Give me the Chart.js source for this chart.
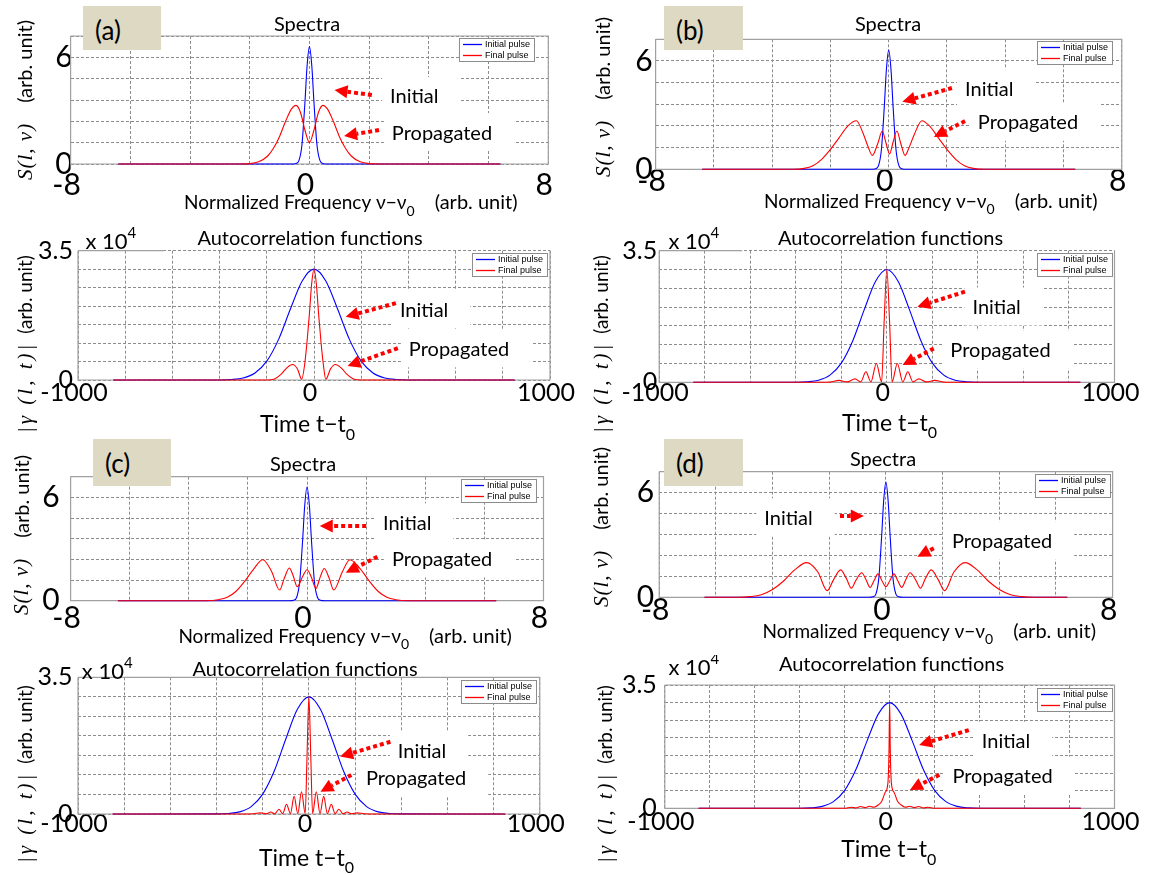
<!DOCTYPE html>
<html lang="en">
<head>
<meta charset="UTF-8">
<title>Spectra and autocorrelation functions</title>
<script src="https://cdn.jsdelivr.net/npm/chart.js"></script>
<style>
  body { margin: 0; background: #fff; }
  #page { position: relative; width: 1155px; height: 875px; overflow: hidden; }
  #page canvas { position: absolute; }
  .tag { position: absolute; z-index: 5; background: #ddd9c3; color: #000;
         font: 26px Lato, "DejaVu Sans", sans-serif; box-sizing: border-box;
         padding: 8px 0 0 12px; }
</style>
</head>
<body>
<div id="page">
  <div class="tag" style="left:83px;top:6px;width:78px;height:44px">(a)</div>
  <div class="tag" style="left:664px;top:6px;width:79px;height:44px">(b)</div>
  <div class="tag" style="left:93px;top:439px;width:78px;height:47px">(c)</div>
  <div class="tag" style="left:664px;top:439px;width:79px;height:47px">(d)</div>
</div>
<script>
// ---- spectra (normalized frequency, arb. unit) ----
const specInitX = [-6.4, -1.0, -0.6, -0.45, -0.35, -0.25, -0.15, -0.08, 0, 0.08, 0.15, 0.25, 0.35, 0.45, 0.6, 1.0, 6.4];
const specInitY = [0, 0, 0, 0.03, 0.2, 1.1, 3.5, 5.5, 6.6, 5.5, 3.5, 1.1, 0.2, 0.03, 0, 0, 0];

const specFinalAX = [-6.4, -2.4, -2.0, -1.7, -1.4, -1.2, -1.0, -0.8, -0.6, -0.45, -0.3, -0.15, 0, 0.15, 0.3, 0.45, 0.6, 0.8, 1.0, 1.2, 1.4, 1.7, 2.0, 2.4, 6.4];
const specFinalAY = [0, 0, 0.02, 0.12, 0.45, 0.9, 1.55, 2.4, 3.1, 3.3, 2.9, 1.9, 1.2, 1.9, 2.9, 3.3, 3.1, 2.4, 1.55, 0.9, 0.45, 0.12, 0.02, 0, 0];

const specFinalBX = [-6.4, -3.3, -2.9, -2.6, -2.3, -2.0, -1.7, -1.4, -1.11, -0.88, -0.72, -0.56, -0.38, -0.22, -0.1, 0.03, 0.15, 0.28, 0.42, 0.56, 0.7, 0.87, 1.14, 1.4, 1.7, 2.0, 2.3, 2.6, 2.9, 3.3, 6.4];
const specFinalBY = [0, 0, 0.05, 0.2, 0.55, 1.1, 1.75, 2.4, 2.69, 2.0, 1.3, 0.77, 1.4, 2.12, 1.5, 0.85, 1.5, 2.12, 1.4, 0.77, 1.2, 1.9, 2.69, 2.4, 1.75, 1.1, 0.55, 0.2, 0.05, 0, 0];

const specFinalCX = [-6.4, -3.4, -3.0, -2.7, -2.4, -2.1, -1.8, -1.5, -1.2, -0.93, -0.77, -0.6, -0.47, -0.33, -0.15, 0, 0.15, 0.3, 0.45, 0.58, 0.75, 0.9, 1.2, 1.45, 1.8, 2.1, 2.4, 2.7, 3.0, 3.4, 6.4];
const specFinalCY = [0, 0, 0.06, 0.2, 0.55, 1.15, 1.85, 2.38, 1.7, 0.62, 1.3, 1.9, 1.45, 0.81, 1.4, 1.8, 1.35, 0.71, 1.4, 1.87, 1.3, 0.62, 1.7, 2.38, 1.85, 1.15, 0.55, 0.2, 0.06, 0, 0];

const specFinalDX = [-6.4, -5.2, -4.8, -4.4, -4.0, -3.6, -3.2, -2.8, -2.4, -2.07, -1.85, -1.6, -1.4, -1.22, -1.05, -0.85, -0.7, -0.56, -0.42, -0.28, -0.14, 0, 0.14, 0.28, 0.42, 0.56, 0.7, 0.85, 1.05, 1.22, 1.4, 1.6, 1.85, 2.07, 2.4, 2.8, 3.2, 3.6, 4.0, 4.4, 4.8, 5.2, 6.4];
const specFinalDY = [0, 0, 0.04, 0.15, 0.45, 0.95, 1.6, 1.99, 1.45, 0.38, 1.0, 1.57, 1.1, 0.52, 1.0, 1.41, 1.0, 0.57, 0.95, 1.34, 0.95, 0.61, 0.95, 1.34, 0.95, 0.57, 1.0, 1.41, 1.0, 0.52, 1.1, 1.57, 1.0, 0.38, 1.45, 1.99, 1.6, 0.95, 0.45, 0.15, 0.04, 0, 0];

// ---- autocorrelation (time t - t0, values in units of 1e4) ----
const autoInitX = [-850, -400, -350, -300, -250, -200, -150, -100, -50, 0, 50, 100, 150, 200, 250, 300, 350, 400, 850];
const autoInitY = [0, 0.002, 0.013, 0.055, 0.19, 0.51, 1.1, 1.92, 2.68, 3.0, 2.68, 1.92, 1.1, 0.51, 0.19, 0.055, 0.013, 0.002, 0];

const autoFinalAX = [-850, -200, -170, -140, -115, -91, -70, -52, -40, -30, -20, -10, 0, 10, 20, 30, 40, 50, 70, 90, 115, 140, 170, 200, 850];
const autoFinalAY = [0, 0, 0.02, 0.15, 0.33, 0.42, 0.3, 0.02, 0.4, 1.0, 1.75, 2.6, 3.0, 2.6, 1.75, 1.0, 0.4, 0.02, 0.3, 0.42, 0.33, 0.15, 0.02, 0, 0];

const autoFinalBX = [-850, -280, -250, -210, -175, -140, -115, -92, -70, -46, -23, -12, 0, 12, 23, 46, 70, 92, 115, 140, 175, 210, 250, 280, 850];
const autoFinalBY = [0, 0, 0.005, 0.05, 0.01, 0.09, 0.01, 0.28, 0.01, 0.5, 0.01, 1.6, 3.0, 1.6, 0.01, 0.5, 0.01, 0.28, 0.01, 0.09, 0.01, 0.05, 0.005, 0, 0];

const autoFinalCX = [-850, -300, -240, -210, -185, -165, -148, -130, -113, -97, -80, -64, -48, -32, -16, -8, 0, 8, 16, 32, 48, 64, 80, 97, 113, 130, 148, 165, 185, 210, 240, 300, 850];
const autoFinalCY = [0, 0, 0.005, 0.03, 0.005, 0.05, 0.005, 0.12, 0.01, 0.25, 0.01, 0.45, 0.01, 0.57, 0.01, 1.5, 3.0, 1.5, 0.01, 0.57, 0.01, 0.45, 0.01, 0.25, 0.01, 0.12, 0.005, 0.05, 0.005, 0.03, 0.005, 0, 0];

const autoFinalDX = [-850, -200, -170, -150, -130, -110, -90, -70, -50, -35, -20, -8, -3, 0, 3, 8, 20, 35, 50, 70, 90, 110, 130, 150, 170, 200, 850];
const autoFinalDY = [0, 0, 0.03, 0.01, 0.05, 0.02, 0.06, 0.03, 0.1, 0.2, 0.45, 0.7, 1.6, 3.0, 1.6, 0.7, 0.45, 0.2, 0.1, 0.03, 0.06, 0.02, 0.05, 0.01, 0.03, 0, 0];

// ---- axes ----
const specXGrid = [-8, -6, -4, -2, 0, 2, 4, 6, 8];
const specXLabels = [-8, 0, 8];
const specYGrid = [0, 1.2, 2.4, 3.6, 4.8, 6, 7.2];
const specYLabels = [0, 6];
const autoXGrid = [-1000, -800, -600, -400, -200, 0, 200, 400, 600, 800, 1000];
const autoXLabels = [-1000, 0, 1000];
const autoYGrid = [0, 0.5, 1, 1.5, 2, 2.5, 3, 3.5];
const autoYLabels = [0, 3.5];
const seriesNames = ['Initial pulse', 'Final pulse'];

const GRID = '#8c8c8c';
const FRAME = '#a0a0a0';
const SANS = 'Lato, "DejaVu Sans", sans-serif';
const MATH = '"Liberation Serif", "DejaVu Serif", serif';
const NOTE_FONT = '20px ' + SANS;

const SPEC_YLABEL = [{t: 'S(l, ν)', font: 'italic 21px ' + MATH, ls: '1px'}, {gap: 20}, {t: '(arb. unit)', font: '20px ' + SANS}];
const AUTO_YLABEL = [{t: '|γ (l, t)|', font: 'italic 21px ' + MATH, ls: '3px'}, {gap: 8}, {t: '(arb. unit)', font: '19px ' + SANS}];
const SPEC_XLABEL = [{t: 'Normalized Frequency ν−ν', font: '19px ' + SANS}, {t: '0', font: '14px ' + SANS, dy: 8}, {gap: 20}, {t: '(arb. unit)', font: '20px ' + SANS}];
const AUTO_XLABEL = [{t: 'Time t−t', font: '23px ' + SANS}, {t: '0', font: '16px ' + SANS, dy: 10}];
const MULT = [{t: 'x 10', font: '22px ' + SANS}, {t: '4', font: '15px ' + SANS, dy: -9}];

// page positions of every panel (chart area = left, top, right, bottom)
const panels = [
  { kind: 'spec', x0: 0, y0: 0, h: 225, area: [70.6, 36, 548.3, 164], finX: specFinalAX, finY: specFinalAY,
    xPad: 3, yPad: -2, title: [307, 25], xlab: [184, 203], ylab: [26, 180], leg: [535, 38],
    notes: [{t: 'Initial', at: [2.70, 3.77], from: [2.09, 3.88], to: [0.84, 4.16]},
            {t: 'Propagated', at: [2.76, 1.74], from: [2.33, 1.91], to: [1.16, 1.58]}] },
  { kind: 'auto', x0: 0, y0: 222, h: 218, area: [78, 250.7, 550, 380], finX: autoFinalAX, finY: autoFinalAY,
    xPad: -2.5, yPad: 5, title: [310, 238.3], mult: [85.5, 241.7], xlab: [307.6, 425], ylab: [26, 433], leg: [548, 253], topCut: 86,
    notes: [{t: 'Initial', at: [364, 1.89], from: [347, 2.08], to: [134, 1.71]},
            {t: 'Propagated', at: [402, 0.83], from: [355, 0.86], to: [142, 0.38]}] },
  { kind: 'spec', x0: 578, y0: 0, h: 225, area: [655.6, 39.3, 1121.8, 169.3], finX: specFinalBX, finY: specFinalBY,
    xPad: -6, yPad: 3, title: [888, 25], xlab: [764, 201.7], ylab: [604, 177], leg: [1113, 41],
    notes: [{t: 'Initial', at: [2.62, 4.43], from: [2.17, 4.50], to: [0.47, 3.74]},
            {t: 'Propagated', at: [3.06, 2.58], from: [2.62, 2.67], to: [1.55, 1.79]}] },
  { kind: 'auto', x0: 578, y0: 222, h: 218, area: [659.2, 250.7, 1114.5, 382.3], finX: autoFinalBX, finY: autoFinalBY,
    xPad: -4, yPad: 2, title: [890.5, 238.3], mult: [668.5, 241.7], xlab: [889.5, 423.3], ylab: [602, 433], leg: [1113, 253], topCut: 83,
    notes: [{t: 'Initial', at: [376, 1.99], from: [343, 2.41], to: [134, 2.01]},
            {t: 'Propagated', at: [279, 0.84], from: [206, 0.90], to: [69, 0.46]}] },
  { kind: 'spec', x0: 0, y0: 430, h: 225, area: [70.6, 476.7, 543.5, 600.7], finX: specFinalCX, finY: specFinalCY,
    xPad: 0, yPad: 11, title: [303, 464.3], xlab: [178.4, 636.7], ylab: [22.3, 615], leg: [537, 479],
    notes: [{t: 'Initial', at: [2.57, 4.49], from: [2.0, 4.34], to: [0.43, 4.34]},
            {t: 'Propagated', at: [2.87, 2.40], from: [2.38, 2.55], to: [1.31, 1.63]}] },
  { kind: 'auto', x0: 0, y0: 655, h: 220, area: [78, 677.3, 539.8, 814], finX: autoFinalCX, finY: autoFinalCY,
    xPad: -5, yPad: 5.5, title: [305, 670], mult: [81.8, 671.7], xlab: [306.5, 858.3], ylab: [26, 863], leg: [537, 680],
    notes: [{t: 'Initial', at: [385, 1.59], from: [353, 1.85], to: [135, 1.47]},
            {t: 'Propagated', at: [247, 0.91], from: [184, 1.0], to: [50, 0.57]}] },
  { kind: 'spec', x0: 578, y0: 430, h: 225, area: [659.2, 471.7, 1112.6, 597.3], finX: specFinalDX, finY: specFinalDY,
    xPad: -5, yPad: 5, title: [883, 460], xlab: [762.5, 631.7], ylab: [602, 607], leg: [1111, 474],
    notes: [{t: 'Initial', at: [-4.29, 4.53], from: [-1.62, 4.66], to: [-0.78, 4.66]},
            {t: 'Propagated', at: [2.33, 3.19], from: [1.69, 2.81], to: [1.11, 2.33]}] },
  { kind: 'auto', x0: 578, y0: 655, h: 220, area: [664.8, 685, 1114.5, 808.3], finX: autoFinalDX, finY: autoFinalDY,
    xPad: -1, yPad: 8, title: [891.5, 665], mult: [668.5, 668.3], xlab: [888.7, 850], ylab: [606, 863], leg: [1113, 688],
    notes: [{t: 'Initial', at: [410, 1.89], from: [352, 2.22], to: [131, 1.80]},
            {t: 'Propagated', at: [279, 0.90], from: [221, 0.95], to: [90, 0.52]}] }
];

function pts(xs, ys) {
  return xs.map((x, i) => ({x: x, y: ys[i]}));
}

// draws text made of several pieces (fonts / sub- and superscripts) from x
function richText(ctx, parts, x, y, measureOnly) {
  let cx = x;
  parts.forEach(p => {
    if (p.gap) { cx += p.gap; return; }
    ctx.font = p.font;
    ctx.letterSpacing = p.ls || '0px';
    if (!measureOnly) ctx.fillText(p.t, cx, y + (p.dy || 0));
    cx += ctx.measureText(p.t).width;
  });
  ctx.letterSpacing = '0px';
  return cx - x;
}

function arrow(ctx, x1, y1, x2, y2) {
  const dx = x2 - x1, dy = y2 - y1, len = Math.hypot(dx, dy);
  const ux = dx / len, uy = dy / len, hl = 13, hw = 6.5;
  const bx = x2 - ux * hl, by = y2 - uy * hl;
  ctx.save();
  ctx.strokeStyle = '#ff0000';
  ctx.fillStyle = '#ff0000';
  ctx.lineWidth = 4;
  ctx.setLineDash([4, 3]);
  ctx.beginPath();
  ctx.moveTo(x1, y1);
  ctx.lineTo(bx, by);
  ctx.stroke();
  ctx.setLineDash([]);
  ctx.beginPath();
  ctx.moveTo(x2, y2);
  ctx.lineTo(bx - uy * hw, by + ux * hw);
  ctx.lineTo(bx + uy * hw, by - ux * hw);
  ctx.closePath();
  ctx.fill();
  ctx.restore();
}

function decor(p) {
  const ox = p.x0, oy = p.y0;
  return {
    id: 'decor',
    beforeDatasetsDraw(chart) {
      const ctx = chart.ctx, a = chart.chartArea;
      const sx = chart.scales.x, sy = chart.scales.y;
      ctx.save();
      // white backing behind the notes (it hides the grid there)
      ctx.font = NOTE_FONT;
      ctx.fillStyle = '#fff';
      p.notes.forEach(n => {
        const x = sx.getPixelForValue(n.at[0]), y = sy.getPixelForValue(n.at[1]);
        const w = ctx.measureText(n.t).width;
        ctx.fillRect(x - 8, y - 20, w + 30, 38);
      });
      // plot frame
      ctx.strokeStyle = FRAME;
      ctx.lineWidth = 1.2;
      ctx.beginPath();
      ctx.moveTo(a.left, a.top);
      ctx.lineTo(a.left, a.bottom);
      ctx.lineTo(a.right, a.bottom);
      ctx.lineTo(a.right, a.top);
      if (!p.topCut) ctx.lineTo(a.left, a.top);
      ctx.stroke();
      if (p.topCut) {
        ctx.beginPath();
        ctx.moveTo(a.left, a.top);
        ctx.lineTo(a.left + p.topCut, a.top);
        ctx.stroke();
      }
      ctx.restore();
    },
    afterDraw(chart) {
      const ctx = chart.ctx;
      const sx = chart.scales.x, sy = chart.scales.y;
      const ds = chart.data.datasets;
      ctx.save();
      ctx.textBaseline = 'middle';
      ctx.textAlign = 'left';

      // legend box, top right inside the plot
      ctx.font = '9px "Liberation Sans", Arial, sans-serif';
      const tw = Math.max(...seriesNames.map(n => ctx.measureText(n).width));
      const lw = 4 + 19 + 3 + tw + 5, lh = 24;
      const lx = p.leg[0] - ox - lw, ly = p.leg[1] - oy;
      ctx.fillStyle = '#fff';
      ctx.fillRect(lx, ly, lw, lh);
      ctx.strokeStyle = '#8c8c8c';
      ctx.lineWidth = 1;
      ctx.strokeRect(lx + 0.5, ly + 0.5, lw - 1, lh - 1);
      seriesNames.forEach((name, i) => {
        const ry = ly + 6.5 + i * 11;
        ctx.strokeStyle = ds[i].borderColor;
        ctx.lineWidth = 1.3;
        ctx.beginPath();
        ctx.moveTo(lx + 4, ry);
        ctx.lineTo(lx + 23, ry);
        ctx.stroke();
        ctx.fillStyle = '#000';
        ctx.fillText(name, lx + 26, ry + 0.5);
      });

      // notes with red dotted arrows
      ctx.fillStyle = '#000';
      p.notes.forEach(n => {
        ctx.font = NOTE_FONT;
        ctx.fillText(n.t, sx.getPixelForValue(n.at[0]), sy.getPixelForValue(n.at[1]));
        arrow(ctx, sx.getPixelForValue(n.from[0]), sy.getPixelForValue(n.from[1]),
                   sx.getPixelForValue(n.to[0]), sy.getPixelForValue(n.to[1]));
      });

      // title
      ctx.fillStyle = '#000';
      ctx.font = '20px ' + SANS;
      ctx.textAlign = 'center';
      ctx.fillText(p.kind === 'spec' ? 'Spectra' : 'Autocorrelation functions', p.title[0] - ox, p.title[1] - oy);
      ctx.textAlign = 'left';

      // multiplier
      if (p.mult) richText(ctx, MULT, p.mult[0] - ox, p.mult[1] - oy);

      // x axis label
      if (p.kind === 'spec') {
        richText(ctx, SPEC_XLABEL, p.xlab[0] - ox, p.xlab[1] - oy);
      } else {
        const w = richText(ctx, AUTO_XLABEL, 0, 0, true);
        richText(ctx, AUTO_XLABEL, p.xlab[0] - ox - w / 2, p.xlab[1] - oy);
      }

      // y axis label, rotated, read from the bottom up
      ctx.translate(p.ylab[0] - ox, p.ylab[1] - oy);
      ctx.rotate(-Math.PI / 2);
      richText(ctx, p.kind === 'spec' ? SPEC_YLABEL : AUTO_YLABEL, 0, 0);
      ctx.restore();
    }
  };
}

function makeChart(p) {
  const spec = p.kind === 'spec';
  const cv = document.createElement('canvas');
  cv.width = 577;
  cv.height = p.h;
  cv.style.left = p.x0 + 'px';
  cv.style.top = p.y0 + 'px';
  document.getElementById('page').appendChild(cv);

  const [L, T, R, B] = p.area;
  const yAxisW = L - p.x0, xAxisH = p.y0 + p.h - B;
  const xGrid = spec ? specXGrid : autoXGrid, xLabels = spec ? specXLabels : autoXLabels;
  const yGrid = spec ? specYGrid : autoYGrid, yLabels = spec ? specYLabels : autoYLabels;
  const tickFont = {family: SANS, size: spec ? 30 : 25};

  new Chart(cv, {
    type: 'line',
    data: {
      datasets: [
        {label: seriesNames[0], data: pts(spec ? specInitX : autoInitX, spec ? specInitY : autoInitY),
         borderColor: '#0000ff', order: 1},
        {label: seriesNames[1], data: pts(p.finX, p.finY), borderColor: '#ff0000', order: 0}
      ]
    },
    options: {
      responsive: false,
      animation: false,
      devicePixelRatio: 1,
      // axes get fixed sizes so the plot box lands where it is in the source figure
      layout: {autoPadding: false, padding: {left: 0, top: T - p.y0, right: p.x0 + 577 - R, bottom: 0}},
      elements: {
        point: {radius: 0},
        line: {borderWidth: 1.1, cubicInterpolationMode: 'monotone', fill: false}
      },
      datasets: {line: {clip: 3}},
      plugins: {legend: {display: false}, tooltip: {enabled: false}, title: {display: false}},
      scales: {
        x: {
          type: 'linear', min: xGrid[0], max: xGrid[xGrid.length - 1],
          afterFit: s => { s.height = xAxisH; },
          afterBuildTicks: s => { s.ticks = xGrid.map(v => ({value: v})); },
          grid: {color: GRID, lineWidth: 1, drawTicks: false},
          border: {display: false, dash: [3, 2]},
          ticks: {autoSkip: false, maxRotation: 0, padding: p.xPad, labelOffset: -4, color: '#000', font: tickFont,
                  callback: v => xLabels.includes(v) ? String(v) : ''}
        },
        y: {
          type: 'linear', min: yGrid[0], max: yGrid[yGrid.length - 1],
          afterFit: s => { s.width = yAxisW; },
          afterBuildTicks: s => { s.ticks = yGrid.map(v => ({value: v})); },
          grid: {color: GRID, lineWidth: 1, drawTicks: false},
          border: {display: false, dash: [3, 2]},
          ticks: {autoSkip: false, padding: p.yPad, color: '#000', font: tickFont,
                  callback: v => yLabels.includes(v) ? String(v) : ''}
        }
      }
    },
    plugins: [decor(p)]
  });
}

panels.forEach(makeChart);
</script>
</body>
</html>
